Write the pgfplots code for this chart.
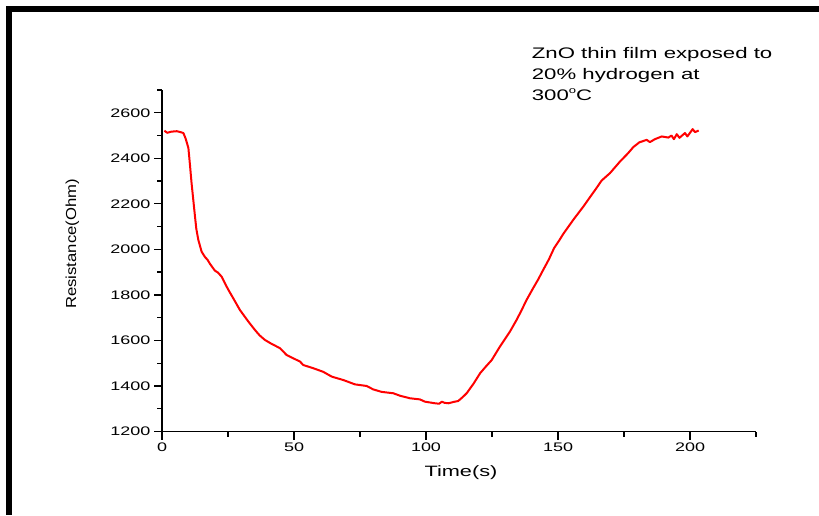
\documentclass[border=0pt]{standalone}
\usepackage{fontspec}
\setmainfont{Liberation Sans}[FakeStretch=1.45]
\newfontfamily\ylfont{Liberation Sans}[FakeStretch=1.15]
\usepackage{pgfplots}
\pgfplotsset{compat=1.18}
\begin{document}
\begin{tikzpicture}
\useasboundingbox (0,0) rectangle (819pt,515pt);
\fill[black] (6pt,503pt) rectangle (819pt,509pt);
\fill[black] (6pt,0pt) rectangle (12pt,509pt);
\begin{axis}[
  scale only axis, width=594pt, height=341.5pt,
  at={(162pt,83.5pt)}, anchor=south west,
  xmin=0, xmax=225, ymin=1200, ymax=2700,
  axis lines=left, axis line style={-, line width=1.3pt},
  xtick={0,50,...,200}, minor xtick={25,75,...,225},
  ytick={1200,1400,...,2600}, minor ytick={1300,1500,...,2700},
  tick align=outside, major tick length=8pt, minor tick length=5pt,
  every tick/.style={line width=1.3pt, black},
  ticklabel style={font=\fontsize{12.4}{14}\selectfont},
  /pgf/number format/assume math mode=true,
  /pgf/number format/set thousands separator={},
  clip=false,
]
\addplot[red, line width=2pt, line join=round] coordinates {
(0.9,2521) (2.0,2512) (3.5,2517) (5.6,2519) (7.0,2515) (8.1,2511)
(9.0,2485) (10.0,2445) (10.6,2370) (11.2,2291) (12.5,2144) (13.0,2090)
(13.75,2042) (15.0,1990) (16.3,1966) (17.2,1955) (18.2,1936) (20.0,1907)
(21.2,1898) (22.6,1880) (24.5,1836) (25.5,1815) (27.0,1785) (29.5,1734)
(32.7,1683) (35.2,1646) (37.0,1622) (39.0,1602) (41.5,1585) (44.7,1566)
(47.2,1536) (50.0,1520) (52.3,1507) (53.5,1492) (57.3,1478) (61.1,1462)
(64.3,1441) (68.7,1426) (73.1,1407) (77.5,1400) (80.0,1385) (83.2,1374)
(87.6,1368) (90.2,1357) (93.9,1346) (97.7,1341) (99.6,1331) (103.4,1324)
(105.0,1322) (106.0,1331) (107.0,1326) (108.5,1324) (110.5,1330) (112.2,1334)
(113.8,1350) (115.4,1368) (118.0,1410) (120.5,1456) (122.5,1483) (124.9,1514)
(128.0,1573) (131.8,1639) (134.3,1690) (136.0,1728) (138.1,1778) (140.6,1830)
(142.5,1868) (144.4,1910) (146.5,1955) (148.5,2005) (150.5,2040) (152.0,2068)
(155.8,2130) (159.6,2188) (162.1,2229) (164.5,2268) (166.5,2302) (169.7,2335)
(173.5,2386) (176.6,2423) (178.5,2449) (180.8,2470) (183.6,2481) (184.8,2471)
(186.7,2484) (189.3,2496) (191.8,2491) (193.0,2500) (193.9,2484) (195.0,2506)
(196.0,2490) (198.1,2511) (199.0,2496) (201.0,2528) (201.9,2515) (203.3,2522)
};
\end{axis}
\node[anchor=base, font=\fontsize{15}{18}\selectfont, inner sep=0pt] at (461pt,39pt) {Time(s)};
\node[rotate=90, anchor=base, font=\ylfont\fontsize{14.5}{17}\selectfont, inner sep=0pt] at (76pt,271pt) {Resistance(Ohm)};
\node[anchor=base west, font=\fontsize{15.3}{18}\selectfont, inner sep=0pt] at (531.7pt,456pt) {ZnO thin film exposed to};
\node[anchor=base west, font=\fontsize{15.3}{18}\selectfont, inner sep=0pt] at (531.7pt,435pt) {20\% hydrogen at};
\node[anchor=base west, font=\fontsize{15.3}{18}\selectfont, inner sep=0pt] at (531.7pt,414pt) {300\raisebox{7pt}{\fontsize{9}{9}\selectfont o}C};
\end{tikzpicture}
\end{document}
